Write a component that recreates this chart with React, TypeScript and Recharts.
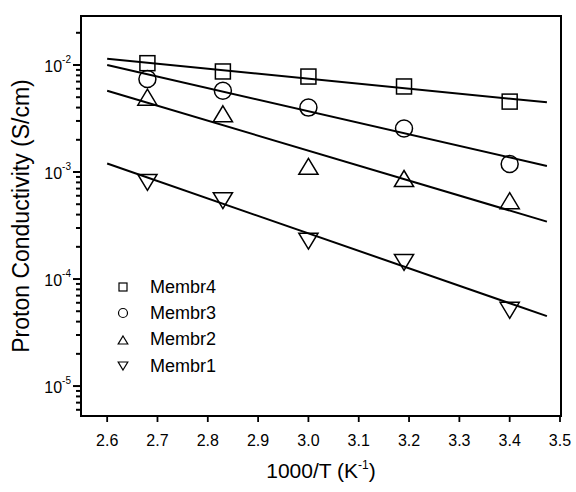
import React from 'react';
import {
  ComposedChart,
  Line,
  Scatter,
  XAxis,
  YAxis,
  ReferenceArea,
  Legend,
} from 'recharts';

// 1000/T values of the measurements (K^-1)
const X_VALUES = [2.68, 2.83, 3.0, 3.19, 3.4];

// conductivity, S/cm
const MEMBR4 = [1.04e-2, 8.7e-3, 7.8e-3, 6.3e-3, 4.55e-3];
const MEMBR3 = [7.4e-3, 5.75e-3, 4.0e-3, 2.55e-3, 1.19e-3];
const MEMBR2 = [5.0e-3, 3.5e-3, 1.13e-3, 8.7e-4, 5.4e-4];
const MEMBR1 = [8.0e-4, 5.4e-4, 2.26e-4, 1.43e-4, 5.1e-5];

// Arrhenius fit lines: value at start and end of fit
const FIT_X = [2.6, 3.474];
const FIT4 = [1.145e-2, 4.48e-3];
const FIT3 = [1.0e-2, 1.14e-3];
const FIT2 = [5.75e-3, 3.44e-4];
const FIT1 = [1.2e-3, 4.5e-5];

const X_TICKS = [2.6, 2.7, 2.8, 2.9, 3.0, 3.1, 3.2, 3.3, 3.4, 3.5];
const Y_MAJOR = [1e-5, 1e-4, 1e-3, 1e-2];
const Y_EXPONENTS = [-6, -5, -4, -3, -2];
const MINOR_STEPS = [2, 3, 4, 5, 6, 7, 8, 9];

const X_DOMAIN: [number, number] = [2.548, 3.502];
const Y_DOMAIN: [number, number] = [5.25e-6, 0.0287];

const Y_TICKS = [
  ...Y_MAJOR,
  ...Y_EXPONENTS.flatMap((e) => MINOR_STEPS.map((k) => k * Math.pow(10, e))),
]
  .filter((v) => v >= Y_DOMAIN[0] && v <= Y_DOMAIN[1])
  .sort((a, b) => a - b);

type Kind = 'square' | 'circle' | 'up' | 'down';

const SERIES: { name: string; kind: Kind; values: number[]; fit: number[] }[] = [
  { name: 'Membr4', kind: 'square', values: MEMBR4, fit: FIT4 },
  { name: 'Membr3', kind: 'circle', values: MEMBR3, fit: FIT3 },
  { name: 'Membr2', kind: 'up', values: MEMBR2, fit: FIT2 },
  { name: 'Membr1', kind: 'down', values: MEMBR1, fit: FIT1 },
];

const FONT = '"Liberation Sans", Arial, sans-serif';

function Marker({ kind, cx, cy, s, sw = 1.5 }: { kind: Kind; cx: number; cy: number; s: number; sw?: number }) {
  const common = { fill: 'none', stroke: '#000', strokeWidth: sw };
  if (kind === 'square') return <rect x={cx - s / 2} y={cy - s / 2} width={s} height={s} {...common} />;
  if (kind === 'circle') return <circle cx={cx} cy={cy} r={s / 2 + 0.5} {...common} />;
  const w = s * 1.2;
  const h = s;
  const pts =
    kind === 'up'
      ? `${cx},${cy - h / 2} ${cx + w / 2},${cy + h / 2} ${cx - w / 2},${cy + h / 2}`
      : `${cx},${cy + h / 2} ${cx + w / 2},${cy - h / 2} ${cx - w / 2},${cy - h / 2}`;
  return <polygon points={pts} {...common} />;
}

// log axis: long tick + 10^n label on decades, short tick otherwise
function YTick({ x, y, payload }: any) {
  const v = payload.value;
  const major = Y_MAJOR.some((m) => Math.abs(m - v) / m < 1e-6);
  const exp = Math.round(Math.log10(v));
  return (
    <g>
      <line x1={x - (major ? 8 : 5)} x2={x} y1={y} y2={y} stroke="#000" strokeWidth={2} />
      {major ? (
        <text x={x - 10} y={y} dy={7} textAnchor="end" fontSize={16} fontFamily={FONT} fill="#000">
          10
          <tspan dy={-9} fontSize={10}>
            {exp}
          </tspan>
        </text>
      ) : null}
    </g>
  );
}

function XTick({ x, y, payload }: any) {
  return (
    <g>
      <line x1={x} x2={x} y1={y} y2={y + 6} stroke="#000" strokeWidth={1.8} />
      <text x={x} y={y + 30} textAnchor="middle" fontSize={16} fontFamily={FONT} fill="#000">
        {payload.value.toFixed(1)}
      </text>
    </g>
  );
}

function LegendBox() {
  return (
    <div style={{ fontFamily: FONT, fontSize: 18, color: '#000' }}>
      {SERIES.map((s) => (
        <div key={s.name} style={{ height: 26.3, display: 'flex', alignItems: 'center' }}>
          <svg width={16} height={16} style={{ display: 'block' }}>
            <Marker kind={s.kind} cx={8} cy={8} s={8} sw={1.2} />
          </svg>
          <span style={{ marginLeft: 19 }}>{s.name}</span>
        </div>
      ))}
    </div>
  );
}

export default function App() {
  return (
    <div style={{ position: 'absolute', left: 0, top: 0, background: '#fff' }}>
      <ComposedChart width={576} height={492} margin={{ top: 16, right: 15, bottom: 0, left: 0 }}>
        <XAxis
          type="number"
          dataKey="x"
          domain={X_DOMAIN}
          ticks={X_TICKS}
          interval={0}
          allowDataOverflow
          height={76}
          tickSize={0}
          tickMargin={0}
          tickLine={false}
          tick={<XTick />}
          axisLine={{ stroke: '#000', strokeWidth: 2 }}
          label={(p: any) => {
            const vb = p.viewBox;
            return (
              <text x={vb.x + vb.width / 2} y={478} textAnchor="middle" fontSize={21} fontFamily={FONT} fill="#000">
                1000/T (K
                <tspan dy={-9} fontSize={12}>-1</tspan>
                <tspan dy={9}>)</tspan>
              </text>
            );
          }}
        />
        <YAxis
          type="number"
          dataKey="y"
          scale="log"
          domain={Y_DOMAIN}
          ticks={Y_TICKS}
          interval={0}
          allowDataOverflow
          width={81}
          tickSize={0}
          tickMargin={0}
          tickLine={false}
          tick={<YTick />}
          axisLine={{ stroke: '#000', strokeWidth: 2 }}
          label={() => (
            <text
              x={21}
              y={216}
              dy="0.35em"
              transform="rotate(-90, 21, 216)"
              textAnchor="middle"
              fontSize={23}
              fontFamily={FONT}
              fill="#000"
            >
              Proton Conductivity (S/cm)
            </text>
          )}
        />
        <ReferenceArea
          x1={X_DOMAIN[0]}
          x2={X_DOMAIN[1]}
          y1={Y_DOMAIN[0]}
          y2={Y_DOMAIN[1]}
          fill="none"
          fillOpacity={0}
          stroke="#000"
          strokeWidth={2}
          ifOverflow="visible"
        />
        {SERIES.map((s) => (
          <Line
            key={`fit-${s.name}`}
            data={FIT_X.map((x, i) => ({ x, y: s.fit[i] }))}
            dataKey="y"
            type="linear"
            dot={false}
            stroke="#000"
            strokeWidth={2}
            legendType="none"
            isAnimationActive={false}
          />
        ))}
        {SERIES.map((s) => (
          <Scatter
            key={s.name}
            name={s.name}
            data={X_VALUES.map((x, i) => ({ x, y: s.values[i] }))}
            dataKey="y"
            isAnimationActive={false}
            shape={(p: any) => <Marker kind={s.kind} cx={p.cx} cy={p.cy} s={s.kind === 'square' ? 15 : 16} />}
          />
        ))}
        <Legend
          layout="vertical"
          align="center"
          verticalAlign="middle"
          content={() => <LegendBox />}
          wrapperStyle={{ left: 115, top: 274, width: 140 }}
        />
      </ComposedChart>
    </div>
  );
}
